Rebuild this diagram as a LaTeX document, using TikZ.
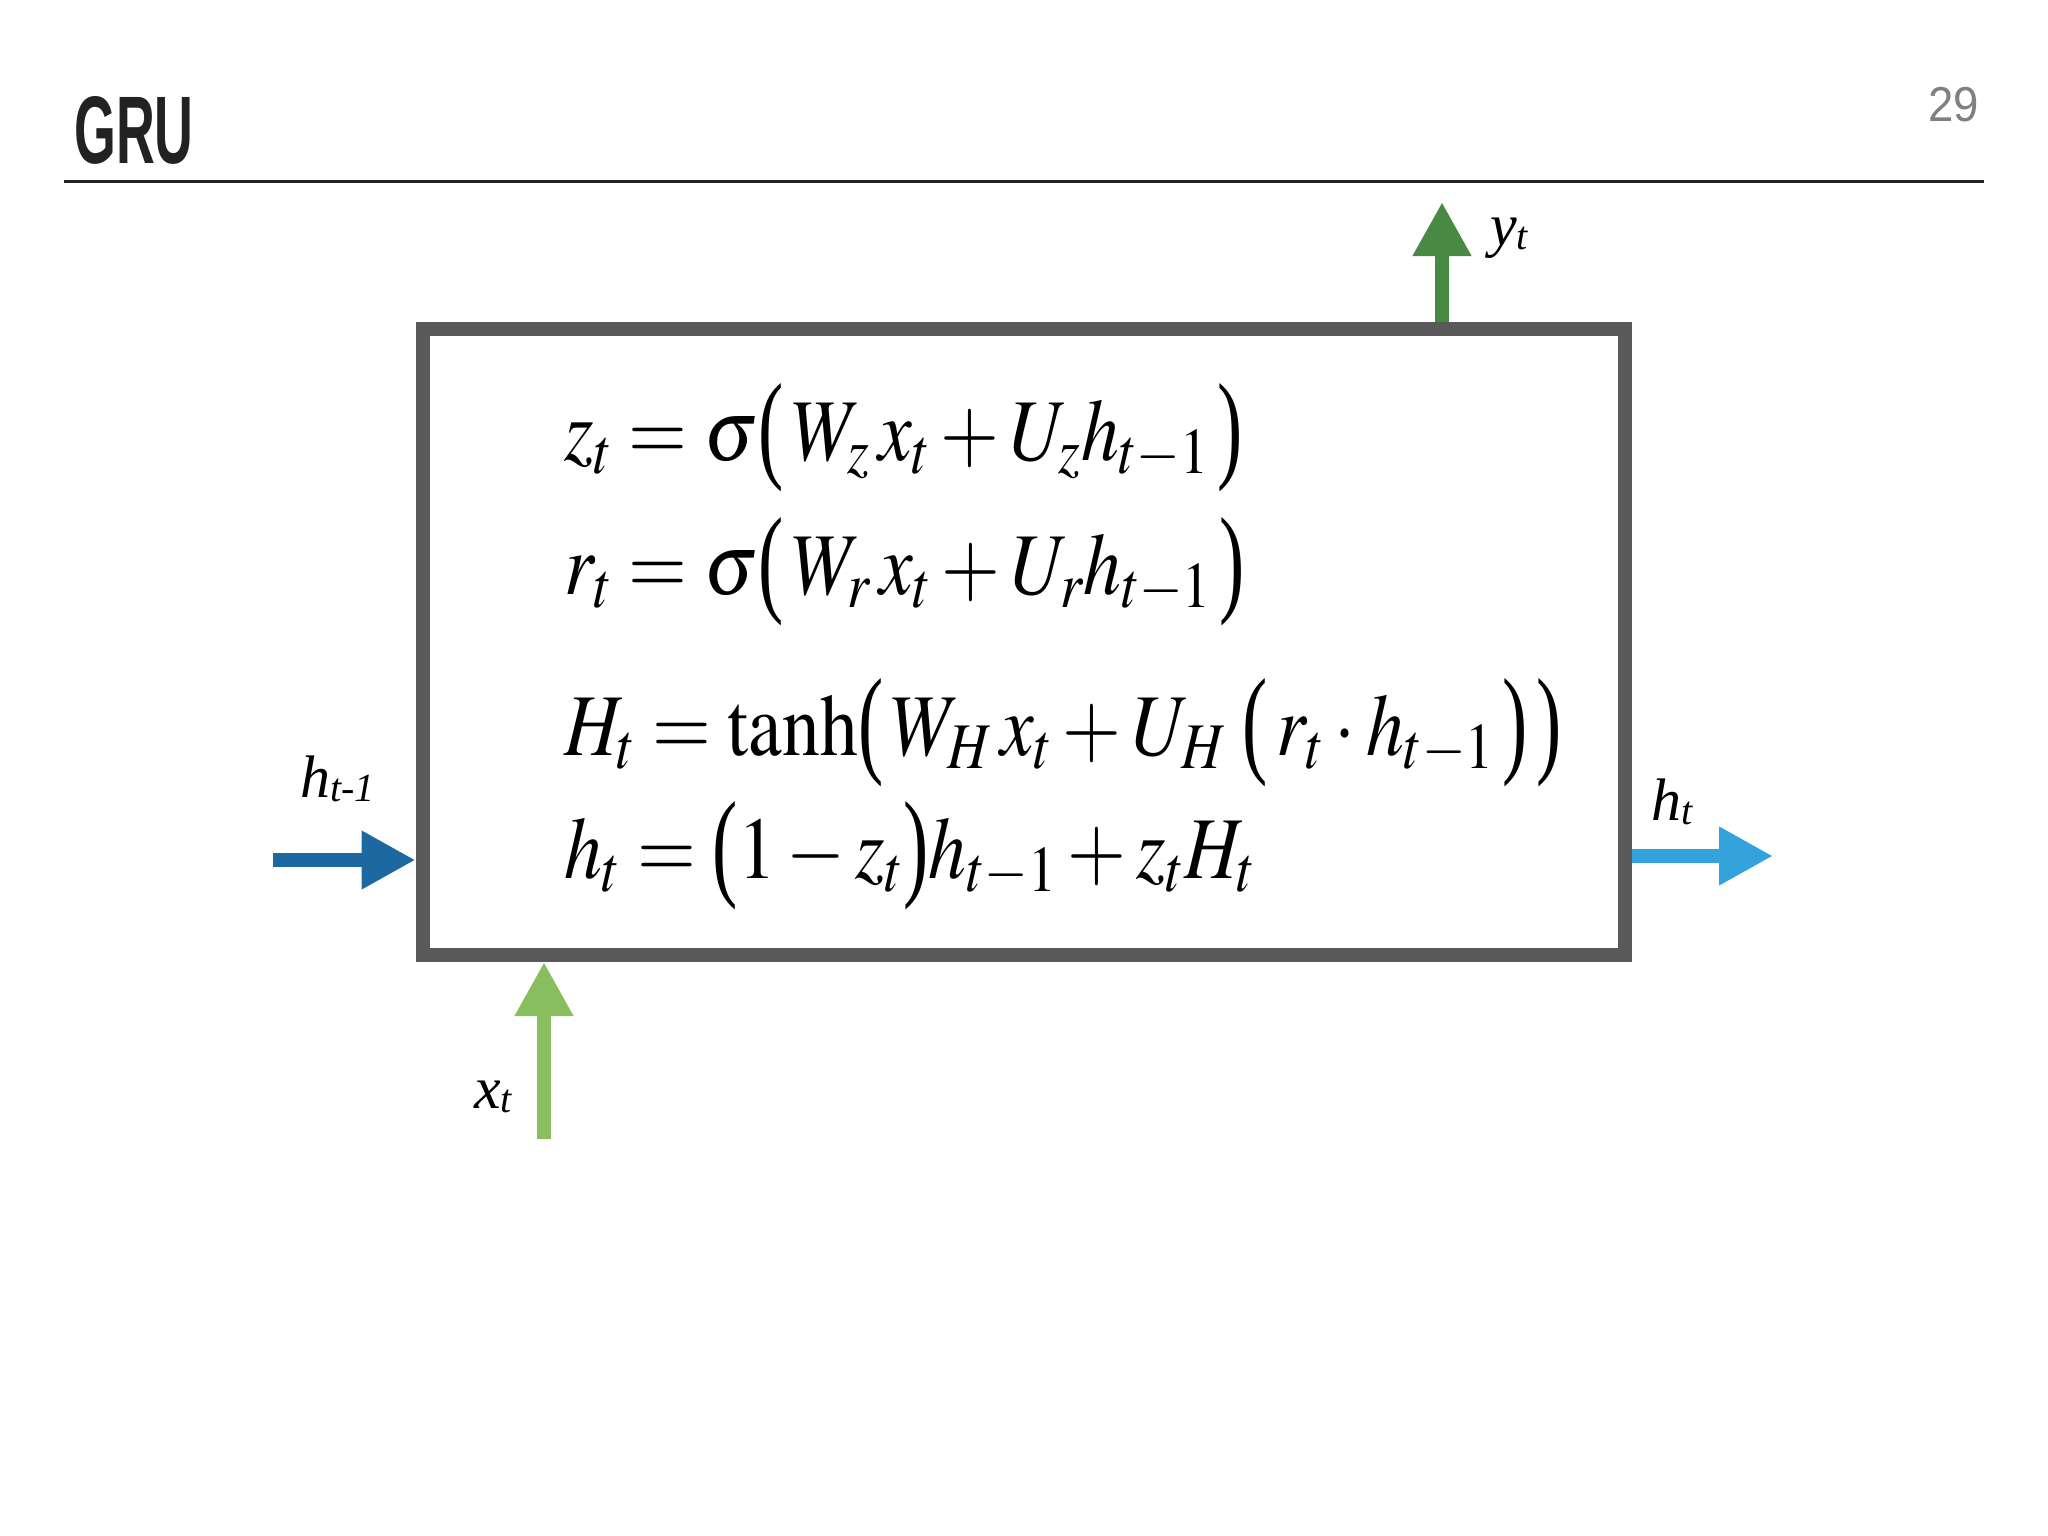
\documentclass[tikz,border=0pt]{standalone}
\usepackage{mathptmx}
\usepackage{fontspec}
\setmainfont{Liberation Serif}
\newfontfamily\titlefont{Liberation Sans}
\usepackage{graphicx}
\usetikzlibrary{arrows.meta}
\definecolor{boxgray}{RGB}{89,89,89}
\definecolor{ygreen}{RGB}{72,137,68}
\definecolor{xgreen}{RGB}{137,190,94}
\definecolor{hdark}{RGB}{29,104,160}
\definecolor{hlight}{RGB}{52,163,219}
\definecolor{rulec}{RGB}{34,34,34}
\definecolor{pagenum}{RGB}{128,128,128}
\newcommand{\lab}[2]{\textit{#1}\raisebox{-0.07em}{\fontsize{40}{40}\selectfont\textit{#2}}}
\newcommand{\eqn}[1]{\scalebox{0.86}[1]{$#1$}}
\newcommand{\lp}{\mathopen{\raisebox{-6pt}{\scalebox{1}[1.36]{(}}}}
\newcommand{\rp}{\mathclose{\raisebox{-6pt}{\scalebox{1}[1.36]{)}}}}
\tikzset{
  flow/.style={line width=14pt, -{Triangle[length=54pt,width=55pt]}},
  lbl/.style={anchor=base west, inner sep=0pt, font=\fontsize{60}{62}\selectfont},
  eq/.style={anchor=base west, inner sep=0pt, font=\fontsize{88}{96}\selectfont},
}
\begin{document}
\begin{tikzpicture}[x=1pt,y=-1pt]
\useasboundingbox[fill=white] (0,0) rectangle (2048,1536);
% header
\node[anchor=base west, inner sep=0pt, text=rulec] (title) at (74,164)
  {\titlefont\bfseries\fontsize{96}{96}\selectfont\scalebox{0.56}[1]{GRU}};
\node[anchor=base west, inner sep=0pt, text=pagenum] (page) at (1928,122)
  {\titlefont\fontsize{49}{49}\selectfont\scalebox{0.93}[1]{29}};
\coordinate (rl) at (64,181.5);
\coordinate (rr) at (1984,181.5);
\draw[rulec, line width=3.3pt] (rl) -- (rr);
% cell
\node[draw=boxgray, line width=14pt, fill=white, minimum width=1202pt, minimum height=626.3pt, inner sep=0pt] (cell) at (1023.5,641.85) {};
% equations
\node[eq] (eqz) at (564,460) {\eqn{z_t = \sigma\lp\, W_z\, x_t + U_z h_{t-1}\,\rp}};
\node[eq] (eqr) at (564,594) {\eqn{r_t = \sigma\lp\, W_r\, x_t + U_r h_{t-1}\,\rp}};
\node[eq] (eqH) at (564,755) {\eqn{H_t = \tanh\lp\, W_H\, x_t + U_H\;\lp\, r_t\cdot h_{t-1}\,\rp\,\rp}};
\node[eq] (eqh) at (564,878) {\eqn{h_t = \lp 1 - z_t\rp h_{t-1} + z_t H_t}};
% arrows
\coordinate (ytop) at (1442,202);
\coordinate (hin) at (273,860);
\coordinate (hout) at (1773,856);
\coordinate (xin) at (544,1139);
\draw[flow, ygreen] (cell.north -| ytop) -- (ytop);
\draw[flow, hdark] (hin) -- (hin -| cell.west);
\draw[flow, hlight] (hout -| cell.east) -- (hout);
\draw[flow, xgreen] (xin) -- (xin |- cell.south);
% labels
\node[lbl] (ylab) at (1490,245) {\lab{y}{t}};
\node[lbl] (hinlab) at (300,797) {\lab{h}{t-1}};
\node[lbl] (houtlab) at (1651,820) {\lab{h}{t}};
\node[lbl] (xlab) at (474,1108) {\lab{x}{t}};
\end{tikzpicture}
\end{document}
